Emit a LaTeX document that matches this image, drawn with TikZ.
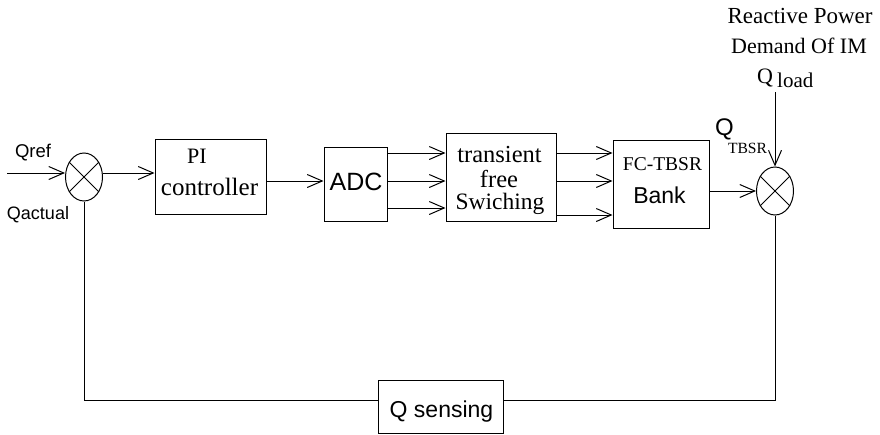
\documentclass[tikz,border=0pt]{standalone}
\usepackage{fontspec}
\setmainfont{Liberation Serif}
\setsansfont{Liberation Sans}
\usetikzlibrary{arrows.meta,shapes.geometric}
\newcommand{\fs}[1]{\fontsize{#1}{#1}\selectfont}
\tikzset{
  blk/.style={draw, line width=1pt, rectangle, inner sep=0pt},
  sumj/.style={draw, line width=1pt, ellipse, inner sep=0pt, minimum width=37pt, minimum height=48pt},
  arr/.style={line width=1pt, -{Straight Barb[length=15pt,width=13pt,line width=1pt]}},
  ln/.style={line width=1pt},
  lbl/.style={inner sep=0pt, anchor=base},
  lbll/.style={inner sep=0pt, anchor=base west},
}
\begin{document}
\begin{tikzpicture}[x=1pt,y=-1pt]
\useasboundingbox (0,0) rectangle (880,434);
% blocks
\node[blk, minimum width=111pt, minimum height=75pt] (pi) at (210.5,176.5) {};
\node[blk, minimum width=63pt, minimum height=74pt] (adc) at (355.5,184) {};
\node[blk, minimum width=110pt, minimum height=88pt] (tr) at (501,177) {};
\node[blk, minimum width=96pt, minimum height=88pt] (fc) at (661,184) {};
\node[blk, minimum width=125pt, minimum height=53pt] (qs) at (440.5,406.5) {};
\node[sumj] (s1) at (84,177) {};
\node[sumj] (s2) at (775,191) {};
\draw[ln] (s1.45) -- (s1.225) (s1.135) -- (s1.315);
\draw[ln] (s2.45) -- (s2.225) (s2.135) -- (s2.315);
% texts
\node[lbl] (tpi) at (197,163) {\fs{22}PI};
\node[lbl] (tctl) at (209.5,195) {\fs{25}controller};
\node[lbl] (tadc) at (356,190) {\sffamily\fs{25}ADC};
\node[lbl] (ttr1) at (499.5,162) {\fs{24.5}transient};
\node[lbl] (ttr2) at (499,187) {\fs{24.5}free};
\node[lbl] (ttr3) at (500,209) {\fs{23.5}Swiching};
\node[lbl] (tfc1) at (662.5,170) {\fs{19.5}FC-TBSR};
\node[lbl] (tfc2) at (659.5,203) {\sffamily\fs{23}Bank};
\node[lbl] (tqs) at (441.5,417) {\sffamily\fs{23}Q sensing};
\node[lbl] (tqref) at (33,157) {\sffamily\fs{18.5}Qref};
\node[lbl] (tqact) at (38,219) {\sffamily\fs{18}Qactual};
\node[lbl] (trp) at (800,23) {\fs{23}Reactive Power};
\node[lbl] (tdm) at (799,53) {\fs{22}Demand Of IM};
\node[lbll] (tql1) at (757,83) {\fs{22}Q};
\node[lbll] (tql2) at (777,87) {\fs{21}load};
\node[lbll] (tqt1) at (715,135) {\sffamily\fs{24}Q};
\node[lbl] (tqt2) at (747.5,153) {\fs{15.6}TBSR};
% connectors
\coordinate (qin) at (7,173);
\coordinate (qlt) at (775,92);
\draw[arr] (qin) -- (qin -| s1.west);
\draw[arr] ([yshift=4pt]s1.east) -- ([yshift=4pt]s1.east -| pi.west);
\draw[arr] ([yshift=-4.5pt]pi.east) -- ([yshift=-4.5pt]pi.east -| adc.west);
\draw[arr] ([yshift=31pt]adc.east) -- ([yshift=31pt]adc.east -| tr.west);
\draw[arr] ([yshift=3pt]adc.east) -- ([yshift=3pt]adc.east -| tr.west);
\draw[arr] ([yshift=-24pt]adc.east) -- ([yshift=-24pt]adc.east -| tr.west);
\draw[arr] ([yshift=24pt]tr.east) -- ([yshift=24pt]tr.east -| fc.west);
\draw[arr] ([yshift=-4pt]tr.east) -- ([yshift=-4pt]tr.east -| fc.west);
\draw[arr] ([yshift=-38pt]tr.east) -- ([yshift=-38pt]tr.east -| fc.west);
\draw[arr] (fc.east |- s2.west) -- (s2.west);
\draw[arr] (qlt) -- (s2.north);
\draw[ln] (s2.south) |- ([yshift=6.5pt]qs.east);
\draw[ln] ([yshift=6.5pt]qs.west) -| (s1.south);
\end{tikzpicture}
\end{document}
